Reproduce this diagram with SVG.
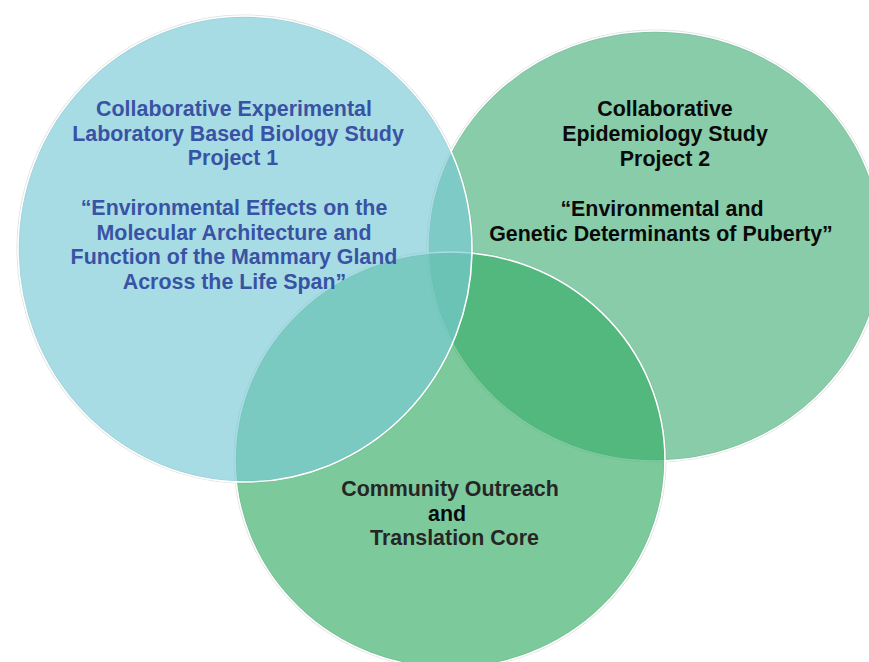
<svg xmlns="http://www.w3.org/2000/svg" width="869" height="662" viewBox="0 0 869 662">
<style>
.halo { fill: none; stroke: #dedede; stroke-width: 3; }
.disc { fill-opacity: 0.65; stroke: #ffffff; stroke-width: 1.6; }
text { font-family: "Liberation Sans", Arial, sans-serif; font-weight: bold; font-size: 21.4px; text-anchor: middle; }
.blue { fill: #3953A4; }
.black { fill: #0a0a0a; }
.dark { fill: #262626; }
</style>
<rect width="869" height="662" fill="#ffffff"/>
<g id="outlines">
  <ellipse class="halo" cx="655" cy="246" rx="227" ry="215"/>
  <ellipse class="halo" cx="450" cy="460" rx="215" ry="208"/>
  <ellipse class="halo" cx="245" cy="249" rx="227" ry="233"/>
</g>
<g id="node-project2">
  <ellipse class="disc" cx="655" cy="246" rx="227" ry="215" fill="#48B17B"/>
  <text class="black" x="665" y="116">Collaborative</text>
  <text class="black" x="665" y="141">Epidemiology Study</text>
  <text class="black" x="665" y="165.5">Project 2</text>
  <text class="black" x="662" y="215.5">“Environmental and</text>
  <text class="black" x="661" y="240.5">Genetic Determinants of Puberty”</text>
</g>
<g id="node-core">
  <ellipse class="disc" cx="450" cy="460" rx="215" ry="208" fill="#36AE66"/>
  <text class="dark" x="450" y="496">Community Outreach</text>
  <text class="black" x="447" y="521">and</text>
  <text class="dark" x="454.5" y="545">Translation Core</text>
</g>
<g id="node-project1">
  <ellipse class="disc" cx="245" cy="249" rx="227" ry="233" fill="#79C9D5"/>
  <text class="blue" x="234" y="116">Collaborative Experimental</text>
  <text class="blue" x="238" y="140.7">Laboratory Based Biology Study</text>
  <text class="blue" x="233" y="165.4">Project 1</text>
  <text class="blue" x="234" y="214.8">“Environmental Effects on the</text>
  <text class="blue" x="234" y="239.5">Molecular Architecture and</text>
  <text class="blue" x="234" y="264.2">Function of the Mammary Gland</text>
  <text class="blue" x="234.5" y="288.9">Across the Life Span”</text>
</g>
</svg>
